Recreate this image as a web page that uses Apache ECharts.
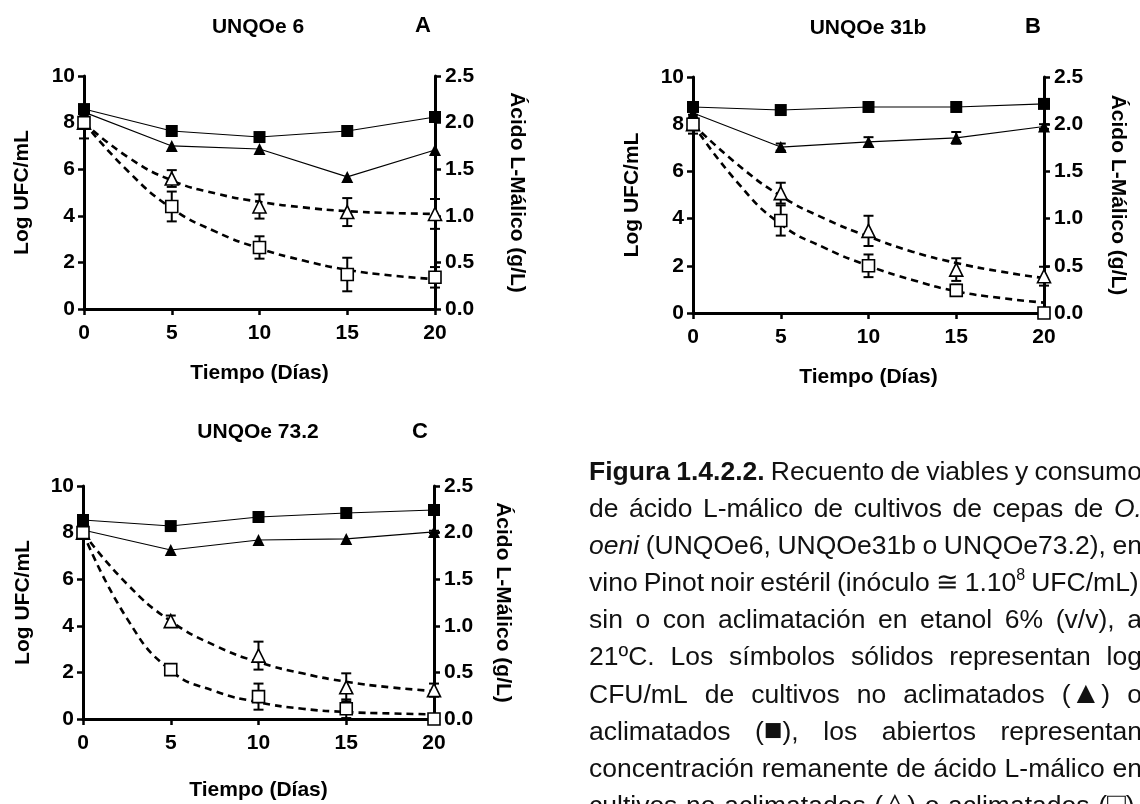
<!DOCTYPE html>
<html>
<head>
<meta charset="utf-8">
<script src="https://cdn.jsdelivr.net/npm/echarts@6/dist/echarts.min.js"></script>
<style>
  html, body { margin: 0; padding: 0; background: #fff; overflow: hidden; }
  #main { width: 1140px; height: 804px; position: absolute; left: 0; top: 0; }
  #caption {
    position: absolute; left: 589px; top: 453px; width: 553px;
    font-family: "Liberation Sans", Arial, sans-serif; font-size: 26.5px;
    line-height: 37.1px; color: #111;
  }
  #caption .ln { display: flex; justify-content: space-between; column-gap: 6px; white-space: nowrap; }
  #caption sup { font-size: 16px; vertical-align: 11px; line-height: 0; }
  #caption big { font-size: 31px; line-height: 0; }
</style>
</head>
<body>
<div id="main"></div>
<div id="caption"></div>
<script>
// dias de muestreo y abscisas de las curvas ajustadas
const days = [0, 5, 10, 15, 20];
const fitDays = [0, 2.5, 5, 7.5, 10, 12.5, 15, 17.5, 20];

const strainNames = ["UNQOe 6", "UNQOe 31b", "UNQOe 73.2"];
const panelLetters = ["A", "B", "C"];

// Panel A - UNQOe 6
const aSolidSq = [8.58, 7.64, 7.38, 7.64, 8.24];
const aSolidTri = [8.45, 7.0, 6.87, 5.67, 6.82];
const aSolidTriErr = [0, 0, 0, 0, 0];
const aOpenTri = [2.0, 1.40, 1.10, 1.04, 1.02];
const aOpenTriErr = [0.17, 0.09, 0.13, 0.15, 0.16];
const aOpenSq = [2.0, 1.10, 0.66, 0.37, 0.34];
const aOpenSqErr = [0.05, 0.16, 0.12, 0.18, 0.11];
const aFitTri = [2.0, 1.63, 1.38, 1.24, 1.15, 1.09, 1.05, 1.03, 1.02];
const aFitSq = [2.0, 1.48, 1.08, 0.83, 0.65, 0.52, 0.42, 0.36, 0.32];

// Panel B - UNQOe 31b
const bSolidSq = [8.73, 8.6, 8.73, 8.73, 8.86];
const bSolidTri = [8.47, 7.03, 7.25, 7.42, 7.9];
const bSolidTriErr = [0, 0.15, 0.2, 0.25, 0.1];
const bOpenTri = [2.0, 1.27, 0.87, 0.46, 0.39];
const bOpenTriErr = [0.1, 0.11, 0.16, 0.12, 0.1];
const bOpenSq = [2.0, 0.98, 0.5, 0.24, 0.0];
const bOpenSqErr = [0.06, 0.16, 0.12, 0.06, 0.02];
const bFitTri = [2.0, 1.58, 1.24, 1.0, 0.81, 0.65, 0.53, 0.44, 0.37];
const bFitSq = [2.0, 1.39, 0.94, 0.69, 0.5, 0.35, 0.23, 0.16, 0.11];

// Panel C - UNQOe 73.2
const cSolidSq = [8.54, 8.28, 8.67, 8.84, 8.97];
const cSolidTri = [8.11, 7.25, 7.68, 7.73, 8.03];
const cSolidTriErr = [0, 0, 0, 0, 0.05];
const cOpenTri = [2.0, 1.05, 0.68, 0.34, 0.31];
const cOpenTriErr = [0.06, 0.06, 0.15, 0.15, 0.07];
const cOpenSq = [2.0, 0.53, 0.24, 0.11, 0.0];
const cOpenSqErr = [0.05, 0.04, 0.14, 0.1, 0.02];
const cFitTri = [2.0, 1.45, 1.05, 0.79, 0.61, 0.49, 0.4, 0.34, 0.3];
const cFitSq = [2.0, 1.08, 0.52, 0.3, 0.18, 0.11, 0.075, 0.06, 0.05];

// texto de la leyenda (una entrada por renglon)
const captionLines = [
  "<b>Figura</b> <b>1.4.2.2.</b> Recuento de viables y consumo",
  "de ácido L-málico de cultivos de cepas de <i>O.</i>",
  "<i>oeni</i> (UNQOe6, UNQOe31b o UNQOe73.2), en",
  "vino Pinot noir estéril (inóculo ≅ 1.10<sup>8</sup> UFC/mL),",
  "sin o con aclimatación en etanol 6% (v/v), a",
  "21ºC. Los símbolos sólidos representan log",
  "CFU/mL de cultivos no aclimatados (<big>▲</big>) o",
  "aclimatados (<big>■</big>), los abiertos representan",
  "concentración remanente de ácido L-málico en",
  "cultivos no aclimatados (<big>△</big>) o aclimatados (<big>□</big>).",
];

const FONT = '"Liberation Sans", Arial, sans-serif';

const panels = [
  { solidSq: aSolidSq, solidTri: aSolidTri, solidTriErr: aSolidTriErr, openTri: aOpenTri, openTriErr: aOpenTriErr, openSq: aOpenSq, openSqErr: aOpenSqErr, fitTri: aFitTri, fitSq: aFitSq },
  { solidSq: bSolidSq, solidTri: bSolidTri, solidTriErr: bSolidTriErr, openTri: bOpenTri, openTriErr: bOpenTriErr, openSq: bOpenSq, openSqErr: bOpenSqErr, fitTri: bFitTri, fitSq: bFitSq },
  { solidSq: cSolidSq, solidTri: cSolidTri, solidTriErr: cSolidTriErr, openTri: cOpenTri, openTriErr: cOpenTriErr, openSq: cOpenSq, openSqErr: cOpenSqErr, fitTri: cFitTri, fitSq: cFitSq },
];

// layout de cada panel
const grids = [
  { left: 84, top: 76, width: 351, height: 233 },
  { left: 693, top: 77, width: 351, height: 236 },
  { left: 83, top: 486, width: 351, height: 233 },
];
const leftNameGap = [51, 50, 49];
const rightNameGap = [71, 63, 58];
const xNameGap = [54, 54, 61];
const titlePos = [[258, 27], [868, 28], [258, 432]];
const letterPos = [[423, 26], [1033, 27], [420, 432]];

// leyenda justificada
const cap = document.getElementById("caption");
captionLines.forEach((line) => {
  const div = document.createElement("div");
  div.className = "ln";
  div.innerHTML = line.split(" ").map((w) => "<span>" + w + "</span>").join("");
  cap.appendChild(div);
});

const chart = echarts.init(document.getElementById("main"));

function errorBarSeries(xIdx, yIdx, vals, errs) {
  const data = days
    .map((d, i) => [d, vals[i] - errs[i], vals[i] + errs[i]])
    .filter((r) => r[2] - r[1] > 0.001);
  return {
    type: "custom",
    xAxisIndex: xIdx,
    yAxisIndex: yIdx,
    clip: false,
    z: 3,
    data: data,
    renderItem: (params, api) => {
      const top = api.coord([api.value(0), api.value(2)]);
      const bot = api.coord([api.value(0), api.value(1)]);
      const w = 5;
      const style = { stroke: "#000", lineWidth: 2 };
      return {
        type: "group",
        children: [
          { type: "line", shape: { x1: top[0], y1: top[1], x2: bot[0], y2: bot[1] }, style },
          { type: "line", shape: { x1: top[0] - w, y1: top[1], x2: top[0] + w, y2: top[1] }, style },
          { type: "line", shape: { x1: bot[0] - w, y1: bot[1], x2: bot[0] + w, y2: bot[1] }, style },
        ],
      };
    },
  };
}

const xAxes = [];
const yAxes = [];
const series = [];
const texts = [];

const axisLabelStyle = { color: "#000", fontSize: 21, fontWeight: "bold", fontFamily: FONT };
const nameStyle = { color: "#000", fontSize: 21, fontWeight: "bold", fontFamily: FONT };

panels.forEach((p, k) => {
  xAxes.push({
    gridIndex: k, type: "value", min: 0, max: 20, interval: 5,
    name: "Tiempo (Días)", nameLocation: "middle", nameGap: xNameGap[k], nameTextStyle: nameStyle,
    axisLine: { onZero: false, lineStyle: { color: "#000", width: 3 } },
    axisTick: { length: 6, lineStyle: { width: 2.5 } },
    axisLabel: Object.assign({ margin: 14 }, axisLabelStyle),
    splitLine: { show: false },
  });
  yAxes.push({
    gridIndex: k, type: "value", position: "left", min: 0, max: 10, interval: 2,
    name: "Log UFC/mL", nameLocation: "middle", nameRotate: 90, nameGap: leftNameGap[k], nameTextStyle: nameStyle,
    axisLine: { show: true, onZero: false, lineStyle: { color: "#000", width: 3 } },
    axisTick: { show: true, length: 6, lineStyle: { width: 2.5 } },
    axisLabel: Object.assign({ margin: 9 }, axisLabelStyle),
    splitLine: { show: false },
  });
  yAxes.push({
    gridIndex: k, type: "value", position: "right", min: 0, max: 2.5, interval: 0.5,
    name: "Ácido L-Málico (g/L)", nameLocation: "middle", nameRotate: -90, nameGap: rightNameGap[k], nameTextStyle: nameStyle,
    axisLine: { show: true, onZero: false, lineStyle: { color: "#000", width: 3 } },
    axisTick: { show: true, length: 6, lineStyle: { width: 2.5 } },
    axisLabel: Object.assign({ margin: 10, formatter: (v) => v.toFixed(1) }, axisLabelStyle),
    splitLine: { show: false },
  });

  const yL = 2 * k;
  const yR = 2 * k + 1;

  // curvas ajustadas (consumo de malico)
  [p.fitTri, p.fitSq].forEach((fit) => {
    series.push({
      type: "line", xAxisIndex: k, yAxisIndex: yR, smooth: 0.5,
      showSymbol: false, silent: true, z: 2, clip: false,
      lineStyle: { color: "#000", width: 2.6, type: [7, 5] },
      data: fitDays.map((d, i) => [d, fit[i]]),
    });
  });

  // barras de error
  series.push(errorBarSeries(k, yL, p.solidTri, p.solidTriErr));
  series.push(errorBarSeries(k, yR, p.openTri, p.openTriErr));
  series.push(errorBarSeries(k, yR, p.openSq, p.openSqErr));

  // recuentos (simbolos solidos)
  series.push({
    type: "line", xAxisIndex: k, yAxisIndex: yL, symbol: "rect", symbolSize: 12, z: 5, clip: false,
    lineStyle: { color: "#000", width: 1.1 }, itemStyle: { color: "#000", opacity: 1 },
    data: days.map((d, i) => [d, p.solidSq[i]]),
  });
  series.push({
    type: "line", xAxisIndex: k, yAxisIndex: yL, symbol: "triangle", symbolSize: 12, z: 5, clip: false,
    lineStyle: { color: "#000", width: 1.1 }, itemStyle: { color: "#000", opacity: 1 },
    data: days.map((d, i) => [d, p.solidTri[i]]),
  });

  // malico remanente (simbolos abiertos)
  series.push({
    type: "scatter", xAxisIndex: k, yAxisIndex: yR, symbol: "triangle", symbolSize: 13, z: 6, clip: false,
    itemStyle: { color: "#fff", borderColor: "#000", borderWidth: 1.6, opacity: 1 },
    data: days.map((d, i) => [d, p.openTri[i]]),
  });
  series.push({
    type: "scatter", xAxisIndex: k, yAxisIndex: yR, symbol: "rect", symbolSize: 12, z: 6, clip: false,
    itemStyle: { color: "#fff", borderColor: "#000", borderWidth: 1.6, opacity: 1 },
    data: days.map((d, i) => [d, p.openSq[i]]),
  });

  texts.push({
    type: "text", x: titlePos[k][0], y: titlePos[k][1],
    style: { text: strainNames[k], fill: "#000", font: "bold 21px " + FONT, textAlign: "center", textVerticalAlign: "middle" },
  });
  texts.push({
    type: "text", x: letterPos[k][0], y: letterPos[k][1],
    style: { text: panelLetters[k], fill: "#000", font: "bold 22px " + FONT, textAlign: "center", textVerticalAlign: "middle" },
  });
});

const option = {
  backgroundColor: "#fff",
  animation: false,
  grid: grids,
  xAxis: xAxes,
  yAxis: yAxes,
  series: series,
  graphic: texts,
};

chart.setOption(option);
</script>
</body>
</html>
